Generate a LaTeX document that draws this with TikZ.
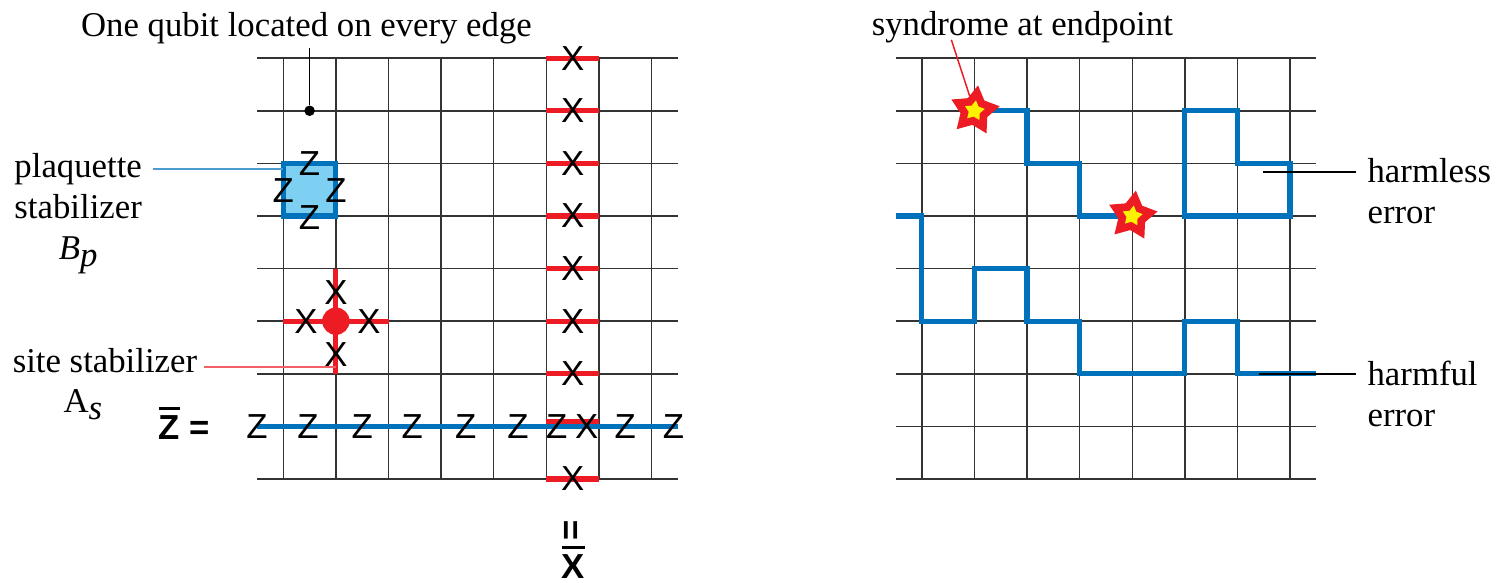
\documentclass[tikz,border=0pt]{standalone}
\usepackage{fontspec}
\setmainfont{Liberation Serif}
\setsansfont{Liberation Sans}
\usepackage{tikz}
\usetikzlibrary{shapes.geometric}

\definecolor{qblue}{RGB}{0,114,188}
\definecolor{qlight}{RGB}{125,208,242}
\definecolor{qred}{RGB}{237,28,36}
\definecolor{qyellow}{RGB}{255,242,0}

\newcommand{\barop}[1]{\vbox{\hrule height 0.8pt\kern1.5pt\hbox{\sffamily\bfseries #1}}}

\begin{document}
\begin{tikzpicture}[x=0.5cm, y=0.5cm,
  font=\fontsize{9.4}{11.1}\selectfont,
  gridln/.style={black!80, line width=0.4pt},
  errpath/.style={qblue, line width=1.4pt},
  redop/.style={qred, line width=1.4pt},
  op/.style={font=\fontsize{9.4}{11.1}\selectfont\sffamily, inner sep=0pt},
  lab/.style={inner sep=0pt, align=center},
  synd/.style={star, star points=5, star point ratio=1.8, fill=qred, draw=qred,
               inner sep=0pt, minimum size=0.46cm, rotate=-8},
  syndin/.style={star, star points=5, star point ratio=1.8, fill=qyellow,
               inner sep=0pt, minimum size=0.2cm, rotate=-8}]
  \useasboundingbox (-5.386,-1.977) rectangle (23.055,9.106);

  % left lattice
  \foreach \y in {0,...,8} \draw[gridln] (-0.5,\y) -- (7.5,\y);
  \foreach \x in {0,...,7} \draw[gridln] (\x,0) -- (\x,8);

  \node[inner sep=0pt, anchor=base] (title) at (0.44,8.42) {One qubit located on every edge};
  \node[circle, fill=black, inner sep=0pt, minimum size=0.1cm] (qdot) at (0.5,7) {};
  \draw[line width=0.4pt] (qdot) -- ([yshift=-1pt]qdot |- title.south);

  % plaquette B_p
  \node[draw=qblue, fill=qlight, line width=1.4pt, minimum size=0.5cm, inner sep=0pt]
       (plaq) at (0.5,5.5) {};
  \node[op] (pz1) at (0.5,6) {Z};
  \node[op] (pz2) at (0,5.48) {Z};
  \node[op] (pz3) at (1,5.48) {Z};
  \node[op] (pz4) at (0.5,4.97) {Z};
  \node[lab, inner xsep=0.1cm, anchor=north] (plaqlab) at (-3.9,6.21)
       {plaquette\\stabilizer\\\textit{B}\raisebox{-2pt}{\textit{p}}};
  \coordinate (plqpt) at (0,5.89);
  \draw[qblue!70, line width=0.4pt] (plqpt) -- (plqpt -| plaqlab.east);

  % site A_s
  \draw[redop] (0,3) -- (2,3);
  \draw[redop] (1,2) -- (1,4);
  \node[circle, fill=qred, inner sep=0pt, minimum size=0.26cm] (site) at (1,3) {};
  \node[op] (sx1) at (0.43,3) {X};
  \node[op] (sx2) at (1.63,3) {X};
  \node[op] (sx3) at (1,3.55) {X};
  \node[op] (sx4) at (1,2.36) {X};
  \node[inner sep=0pt, inner xsep=0.057cm, anchor=base east] (sitelab) at (-1.51,2.015)
       {site stabilizer};
  \node[inner sep=0pt, anchor=base] (sitesub) at (-3.81,1.27) {A\raisebox{-2pt}{\textit{s}}};
  \coordinate (sitept) at (1,2.13);
  \draw[qred!70, line width=0.4pt] (sitept) -- (sitept -| sitelab.east);

  % logical operators
  \foreach \y in {0,2,3,...,8} \draw[redop] (5,\y) -- (6,\y);
  \draw[redop] (5,1.1) -- (6,1.1);
  \draw[errpath] (-0.5,1) -- (7.5,1);
  \foreach \y in {0,2,3,...,8} \node[op] (xl\y) at (5.5,\y) {X};
  \node[op] (xl1) at (5.77,1) {X};
  \foreach \x [count=\i] in {-0.5,0.47,1.5,2.45,3.47,4.46,5.2,6.5,7.42}
    \node[op] (zl\i) at (\x,1) {Z};
  \node[op, anchor=base west] (zbar) at (-2.38,0.745) {\barop{Z}\ \textbf{=}};
  \node[op] (eqv) at (5.51,-0.98) {\rotatebox{90}{\bfseries =}};
  \node[op, anchor=base] (xbar) at (5.51,-1.9) {\barop{X}};

  % right lattice with error chains
  \begin{scope}[shift={(12.14,0)}]
    \foreach \y in {0,...,8} \draw[gridln] (-0.5,\y) -- (7.5,\y);
    \foreach \x in {0,...,7} \draw[gridln] (\x,0) -- (\x,8);

    \draw[errpath] (1,7) -| (2,6) -| (3,5) -- (4,5);
    \draw[errpath] (5,7) -| (6,6) -| (7,5) -- (5,5) -- cycle;
    \draw[errpath] (-0.5,5) -| (0,3) -| (1,4) -| (2,3) -| (3,2) -| (5,3) -| (6,2) -- (7.5,2);

    \node[synd] (star1) at (1,7) {};
    \node[syndin] (star1in) at (1,7) {};
    \node[synd] (star2) at (4,5) {};
    \node[syndin] (star2in) at (4,5) {};

    \node[inner sep=0pt, anchor=base] (syndlab) at (1.91,8.44) {syndrome at endpoint};
    \coordinate (sp) at (0.56,8.35);
    \draw[qred, line width=0.4pt] (sp) -- (star1);

    \node[inner sep=0pt, inner xsep=0.1cm, align=left, anchor=north west] (harmless)
         at (8.26,6.10) {harmless\\error};
    \coordinate (hlp) at (6.49,5.84);
    \draw[line width=0.4pt] (hlp) -- (hlp -| harmless.west);

    \node[inner sep=0pt, inner xsep=0.1cm, align=left, anchor=north west] (harmful)
         at (8.26,2.26) {harmful\\error};
    \coordinate (hfp) at (6.4,2);
    \draw[line width=0.4pt] (hfp) -- (hfp -| harmful.west);
  \end{scope}
\end{tikzpicture}
\end{document}
